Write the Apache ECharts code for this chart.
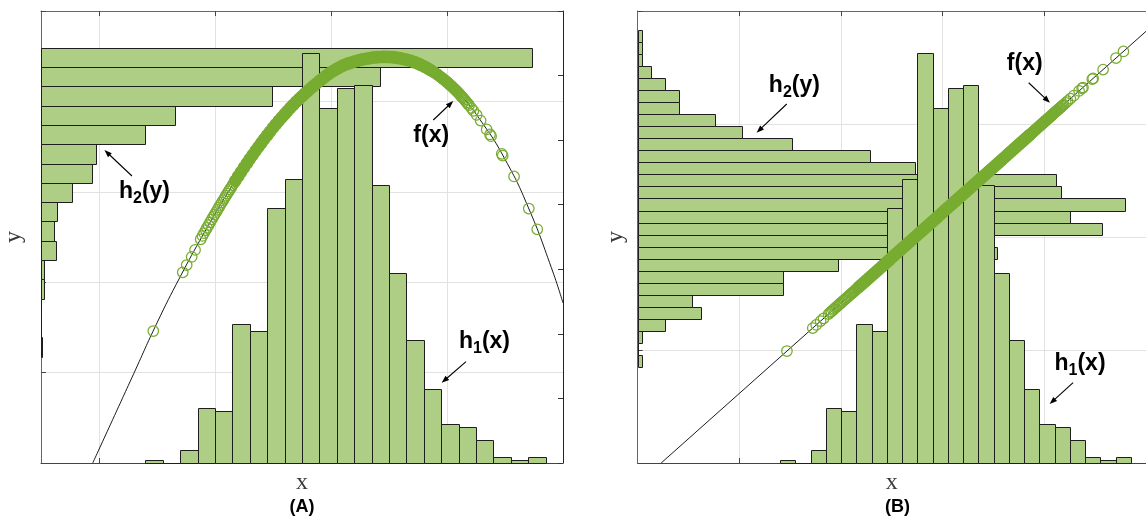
<!DOCTYPE html>
<html>
<head>
<meta charset="utf-8">
<script src="https://cdn.jsdelivr.net/npm/echarts@6/dist/echarts.min.js"></script>
<style>
  html, body { margin: 0; padding: 0; background: #fff; }
  #chart { width: 1146px; height: 518px; }
</style>
</head>
<body>
<div id="chart"></div>
<script>
// ---- h1(x): histogram of the x samples (shared by both panels) ----
const h1Start = 1.4;
const h1Width = 0.15;
const h1Counts = [1, 0, 4, 17, 16, 43, 41, 79, 88, 127, 110, 116, 117, 86, 59, 38, 23, 12, 11, 7, 2, 1, 2];

// ---- h2(y): histograms of y = f(x), listed bottom to top ----
const h2StartA = 1.178;
const h2WidthA = 0.2135;
const h2CountsA = [1, 0, 0, 2, 2, 10, 9, 11, 21, 34, 37, 70, 90, 155, 228, 330];

const h2StartB = 0.847;
const h2WidthB = 0.10671;
const h2CountsB = [1, 0, 1, 6, 14, 12, 32, 32, 44, 79, 74, 102, 95, 107, 93, 92, 61, 51, 34, 23, 17, 9, 9, 6, 3, 1, 1, 1];

// ---- f(x) curves ----
const curveA = [[0.946, 0], [1.1, 0.43], [1.3, 0.99], [1.5, 1.55], [1.7, 2.06], [1.9, 2.531], [2.1, 2.969],
  [2.3, 3.362], [2.5, 3.708], [2.7, 3.995], [2.9, 4.225], [3.1, 4.395], [3.3, 4.472], [3.5, 4.491],
  [3.7, 4.443], [3.9, 4.313], [4.1, 4.092], [4.3, 3.77], [4.5, 3.36], [4.7, 2.83], [4.9, 2.16], [5.0, 1.77]];
const curveB = [[0.231, 0], [5.0, 3.82]];

// ---- samples (x, f(x)) in the thin tails of the distribution ----
const tailX = [1.468, 1.722, 1.756, 1.799, 1.828, 1.877, 1.892, 1.905, 1.92, 1.931, 1.944, 1.958, 1.972, 1.985,
  1.996, 2.009, 2.021, 2.034, 2.045, 2.058, 2.07, 2.082, 2.094, 2.106, 2.118, 2.129, 2.14, 2.152, 2.163,
  3.862, 3.868, 3.874, 3.8805, 3.887, 3.8935, 3.9, 3.9065, 3.913, 3.919, 3.925, 3.9325, 3.94, 3.9465, 3.953,
  3.9595, 3.966, 3.973, 3.98, 3.9875, 3.995, 4.0015, 4.008, 4.015, 4.022, 4.0295, 4.037, 4.0435, 4.05, 4.057,
  4.064, 4.072, 4.08, 4.089, 4.098, 4.1065, 4.115, 4.1235, 4.132, 4.141, 4.15, 4.16, 4.17, 4.18, 4.19, 4.21,
  4.228, 4.256, 4.29, 4.342, 4.371, 4.38, 4.472, 4.48, 4.578, 4.705, 4.778];
const tailYA = [1.46, 2.11, 2.19, 2.28, 2.357, 2.475, 2.512, 2.543, 2.577, 2.602, 2.631, 2.663, 2.694, 2.723,
  2.747, 2.775, 2.801, 2.829, 2.853, 2.881, 2.906, 2.931, 2.956, 2.981, 3.006, 3.028, 3.05, 3.075, 3.097,
  4.343, 4.338, 4.333, 4.328, 4.323, 4.318, 4.313, 4.307, 4.301, 4.296, 4.29, 4.283, 4.275, 4.269, 4.263,
  4.256, 4.249, 4.242, 4.235, 4.227, 4.219, 4.212, 4.205, 4.197, 4.188, 4.18, 4.171, 4.164, 4.156, 4.147,
  4.138, 4.128, 4.118, 4.107, 4.095, 4.083, 4.07, 4.058, 4.046, 4.033, 4.02, 4.005, 3.989, 3.974, 3.958, 3.926,
  3.896, 3.85, 3.788, 3.69, 3.635, 3.615, 3.42, 3.40, 3.17, 2.815, 2.585];
const tailYB = [0.991, 1.194, 1.222, 1.256, 1.279, 1.318, 1.330, 1.341, 1.353, 1.362, 1.372, 1.383, 1.395, 1.405,
  1.414, 1.424, 1.434, 1.444, 1.453, 1.463, 1.473, 1.483, 1.492, 1.502, 1.511, 1.520, 1.529, 1.539, 1.548,
  2.908, 2.913, 2.918, 2.923, 2.928, 2.934, 2.939, 2.944, 2.949, 2.954, 2.959, 2.965, 2.971, 2.976, 2.981,
  2.987, 2.992, 2.998, 3.003, 3.009, 3.015, 3.020, 3.025, 3.031, 3.037, 3.043, 3.049, 3.054, 3.059, 3.065,
  3.070, 3.077, 3.083, 3.091, 3.098, 3.105, 3.111, 3.118, 3.125, 3.132, 3.139, 3.147, 3.155, 3.163, 3.171, 3.187,
  3.202, 3.224, 3.251, 3.293, 3.316, 3.323, 3.397, 3.404, 3.482, 3.584, 3.642];

// ---- samples in the crowded middle, where the circles merge into a solid band ----
const coreX = [2.175, 2.2, 2.225, 2.25, 2.275, 2.3, 2.325, 2.35, 2.375, 2.4,
  2.425, 2.45, 2.475, 2.5, 2.525, 2.55, 2.575, 2.6, 2.625, 2.65,
  2.675, 2.7, 2.725, 2.75, 2.775, 2.8, 2.825, 2.85, 2.875, 2.9,
  2.925, 2.95, 2.975, 3.0, 3.025, 3.05, 3.075, 3.1, 3.125, 3.15,
  3.175, 3.2, 3.225, 3.25, 3.275, 3.3, 3.325, 3.35, 3.375, 3.4,
  3.425, 3.45, 3.475, 3.5, 3.525, 3.55, 3.575, 3.6, 3.625, 3.65,
  3.675, 3.7, 3.725, 3.75, 3.775, 3.8, 3.825, 3.85];
const coreYA = [3.121, 3.171, 3.22, 3.268, 3.315, 3.362, 3.408, 3.453, 3.497, 3.541,
  3.584, 3.626, 3.667, 3.708, 3.747, 3.785, 3.822, 3.859, 3.894, 3.929,
  3.962, 3.995, 4.026, 4.057, 4.087, 4.116, 4.144, 4.171, 4.198, 4.225,
  4.25, 4.275, 4.299, 4.322, 4.341, 4.36, 4.378, 4.395, 4.408, 4.42,
  4.43, 4.44, 4.449, 4.458, 4.465, 4.472, 4.477, 4.482, 4.486, 4.489,
  4.491, 4.492, 4.492, 4.491, 4.489, 4.486, 4.481, 4.476, 4.469, 4.462,
  4.453, 4.443, 4.431, 4.418, 4.403, 4.388, 4.371, 4.353];
const coreYB = [1.557, 1.577, 1.597, 1.617, 1.637, 1.657, 1.677, 1.697, 1.717, 1.737,
  1.757, 1.777, 1.797, 1.818, 1.838, 1.858, 1.878, 1.898, 1.918, 1.938,
  1.958, 1.978, 1.998, 2.018, 2.038, 2.058, 2.078, 2.098, 2.118, 2.138,
  2.158, 2.178, 2.198, 2.218, 2.238, 2.258, 2.278, 2.298, 2.318, 2.338,
  2.358, 2.378, 2.398, 2.418, 2.438, 2.458, 2.478, 2.498, 2.518, 2.538,
  2.558, 2.578, 2.598, 2.618, 2.638, 2.658, 2.678, 2.698, 2.718, 2.739,
  2.759, 2.779, 2.799, 2.819, 2.839, 2.859, 2.879, 2.899];

// ---- annotations, anchored in data units of each panel ----
const notesA = [
  { parts: ['h', '2', '(y)'], at: [1.172, 2.918], tail: [1.284, 3.175], head: [1.047, 3.462] },
  { parts: ['f(x)'],          at: [3.71, 3.534],  tail: [3.882, 3.794], head: [4.054, 4.004] },
  { parts: ['h', '1', '(x)'], at: [4.103, 1.259], tail: [4.164, 1.121], head: [3.954, 0.888] }
];
const notesB = [
  { parts: ['h', '2', '(y)'], at: [1.29, 3.27],  tail: [1.466, 3.177], head: [1.17, 2.923] },
  { parts: ['f(x)'],          at: [3.631, 3.46], tail: [3.846, 3.365], head: [4.055, 3.188] },
  { parts: ['h', '1', '(x)'], at: [4.1, 0.812],  tail: [4.283, 0.711], head: [4.052, 0.522] }
];

// ---- styling ----
const GREEN = '#77AC30';
const BAR_FILL = '#ADCE84';
const BAR_EDGE = '#1e1e1e';
const GRID_LINE = '#e2e2e2';
const MAIN_FONT = 'bold 23px "Liberation Sans", Arial, sans-serif';
const SUB_FONT = 'bold 16px "Liberation Sans", Arial, sans-serif';

const panels = [
  { left: 41, width: 522, xMin: 0.5, yMax: 5, yNameGap: 15, h2Max: 351, rightTicks: true,
    h2Start: h2StartA, h2Width: h2WidthA, h2Counts: h2CountsA,
    curve: curveA, smooth: true, tailY: tailYA, coreY: coreYA, notes: notesA, tag: '(A)' },
  { left: 637.7, width: 519.5, xMin: 0, yMax: 4, yNameGap: 10, h2Max: 111.7, rightTicks: false,
    h2Start: h2StartB, h2Width: h2WidthB, h2Counts: h2CountsB,
    curve: curveB, smooth: false, tailY: tailYB, coreY: coreYB, notes: notesB, tag: '(B)' }
];

const crisp = v => Math.round(v) + 0.5;

function verticalBar(params, api) {
  const a = api.coord([api.value(0), 0]);
  const b = api.coord([api.value(1), api.value(2)]);
  const x0 = crisp(a[0]), x1 = crisp(b[0]), y0 = crisp(a[1]), y1 = crisp(b[1]);
  return { type: 'rect', shape: { x: x0, y: y1, width: x1 - x0, height: y0 - y1 },
    style: { fill: BAR_FILL, stroke: BAR_EDGE, lineWidth: 1 } };
}
function horizontalBar(params, api) {
  const a = api.coord([0, api.value(0)]);
  const b = api.coord([api.value(2), api.value(1)]);
  const x0 = crisp(a[0]), x1 = crisp(b[0]), y0 = crisp(a[1]), y1 = crisp(b[1]);
  return { type: 'rect', shape: { x: x0, y: y1, width: x1 - x0, height: y0 - y1 },
    style: { fill: BAR_FILL, stroke: BAR_EDGE, lineWidth: 1 } };
}

const grids = [], xAxes = [], yAxes = [], series = [];
panels.forEach((p, i) => {
  grids.push({ left: p.left, top: 11, width: p.width, height: 452, containLabel: false });
  const xMain = 3 * i, xH2 = 3 * i + 2;
  const yMain = 2 * i, yH1 = 2 * i + 1;
  const tick = { show: true, inside: true, length: 5, customValues: [1, 2, 3, 4], lineStyle: { color: '#444', width: 1 } };

  xAxes.push({
    type: 'value', gridIndex: i, min: p.xMin, max: 5, position: 'bottom',
    axisLine: { show: true, onZero: false, lineStyle: { color: '#444', width: 1 } },
    axisTick: tick, axisLabel: { show: false },
    splitLine: { show: true, lineStyle: { color: GRID_LINE, width: 1 } },
    name: 'x', nameLocation: 'middle', nameGap: 8,
    nameTextStyle: { fontFamily: '"Liberation Serif", "DejaVu Serif", serif', fontSize: 24, color: '#3a3a3a' }
  });
  xAxes.push({
    type: 'value', gridIndex: i, min: p.xMin, max: 5, position: 'top',
    axisLine: { show: true, onZero: false, lineStyle: { color: '#666', width: 1 } },
    axisTick: tick, axisLabel: { show: false }, splitLine: { show: false }
  });
  xAxes.push({ type: 'value', gridIndex: i, min: 0, max: p.h2Max, position: 'top', show: false });

  yAxes.push({
    type: 'value', gridIndex: i, min: 0, max: p.yMax, interval: 1, position: 'left',
    axisLine: { show: true, onZero: false, lineStyle: { color: '#666', width: 1 } },
    axisTick: { show: true, inside: true, length: 5, lineStyle: { color: '#444', width: 1 } },
    axisLabel: { show: false },
    splitLine: { show: true, lineStyle: { color: GRID_LINE, width: 1 } },
    name: 'y', nameLocation: 'middle', nameGap: p.yNameGap,
    nameTextStyle: { fontFamily: '"Liberation Serif", "DejaVu Serif", serif', fontSize: 24, color: '#3a3a3a' }
  });
  yAxes.push({
    type: 'value', gridIndex: i, min: 0, max: 140, interval: 20, position: 'right',
    axisLine: { show: p.rightTicks, onZero: false, lineStyle: { color: '#222', width: 1 } },
    axisTick: { show: p.rightTicks, inside: true, length: 5, lineStyle: { color: '#333', width: 1 } },
    axisLabel: { show: false }, splitLine: { show: false }
  });

  // h2(y): horizontal bars along the y axis, lengths on the hidden top count axis
  series.push({
    type: 'custom', xAxisIndex: xH2, yAxisIndex: yMain, z: 2, silent: true,
    encode: { x: 2, y: [0, 1] },
    data: p.h2Counts.map((c, k) => [p.h2Start + k * p.h2Width, p.h2Start + (k + 1) * p.h2Width, c]),
    renderItem: horizontalBar
  });
  // h1(x): vertical bars on the x axis, heights on the right count axis
  series.push({
    type: 'custom', xAxisIndex: xMain, yAxisIndex: yH1, z: 3, silent: true,
    encode: { x: [0, 1], y: 2 },
    data: h1Counts.map((c, k) => [h1Start + k * h1Width, h1Start + (k + 1) * h1Width, c]),
    renderItem: verticalBar
  });
  // f(x)
  series.push({
    type: 'line', xAxisIndex: xMain, yAxisIndex: yMain, z: 4, silent: true,
    data: p.curve, smooth: p.smooth, showSymbol: false, clip: true,
    lineStyle: { color: '#000', width: 0.9 }
  });
  // samples (x, f(x))
  series.push({
    type: 'scatter', xAxisIndex: xMain, yAxisIndex: yMain, z: 5, silent: true,
    data: coreX.map((x, k) => [x, p.coreY[k]]),
    symbol: 'circle', symbolSize: 11.5,
    itemStyle: { color: GREEN, borderColor: GREEN, borderWidth: 1.2, opacity: 1 }
  });
  series.push({
    type: 'scatter', xAxisIndex: xMain, yAxisIndex: yMain, z: 5, silent: true,
    data: tailX.map((x, k) => [x, p.tailY[k]]),
    symbol: 'circle', symbolSize: 10.5,
    itemStyle: { color: 'rgba(0,0,0,0)', borderColor: GREEN, borderWidth: 1.25, opacity: 1 }
  });
});

const chart = echarts.init(document.getElementById('chart'), null, { renderer: 'canvas', width: 1146, height: 518 });
chart.setOption({
  animation: false,
  grid: grids, xAxis: xAxes, yAxis: yAxes, series: series
});

// ---- annotation graphics ----
const measureCtx = document.createElement('canvas').getContext('2d');
function textWidth(t, font) { measureCtx.font = font; return measureCtx.measureText(t).width; }

function arrow(t, h) {
  const dx = h[0] - t[0], dy = h[1] - t[1];
  const L = Math.hypot(dx, dy), ux = dx / L, uy = dy / L;
  const hl = 7.5, hw = 2.8;
  const bx = h[0] - ux * hl, by = h[1] - uy * hl;
  return [
    { type: 'line', silent: true, z: 10, shape: { x1: t[0], y1: t[1], x2: bx + ux, y2: by + uy },
      style: { stroke: '#000', lineWidth: 1.1 } },
    { type: 'polygon', silent: true, z: 10,
      shape: { points: [[h[0], h[1]], [bx - uy * hw, by + ux * hw], [bx + uy * hw, by - ux * hw]] },
      style: { fill: '#000' } }
  ];
}

const graphics = [];
panels.forEach((p, i) => {
  const finder = { xAxisIndex: 3 * i, yAxisIndex: 2 * i };
  p.notes.forEach(n => {
    const base = chart.convertToPixel(finder, n.at);
    let x = base[0];
    n.parts.forEach((t, k) => {
      const isSub = n.parts.length === 3 && k === 1;
      const font = isSub ? SUB_FONT : MAIN_FONT;
      const size = isSub ? 16 : 23;
      const baseline = isSub ? base[1] + 4.8 : base[1];
      graphics.push({
        type: 'text', silent: true, z: 10, x: x, y: baseline - 0.3465 * size,
        style: { text: t, font: font, fill: '#000', textAlign: 'left', textVerticalAlign: 'middle' }
      });
      x += textWidth(t, font);
    });
    graphics.push(...arrow(chart.convertToPixel(finder, n.tail), chart.convertToPixel(finder, n.head)));
  });
  graphics.push({
    type: 'text', silent: true, z: 10, x: p.left + p.width / 2, y: 507,
    style: { text: p.tag, font: 'bold 18px "Liberation Sans", Arial, sans-serif', fill: '#000',
      textAlign: 'center', textVerticalAlign: 'middle' }
  });
});
chart.setOption({ graphic: graphics });
</script>
</body>
</html>
